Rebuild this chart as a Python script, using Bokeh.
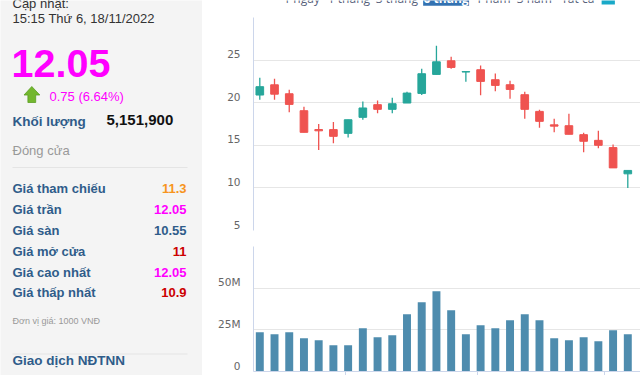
from bokeh.plotting import figure
from bokeh.layouts import row, column
from bokeh.models import Range1d, ColumnDataSource, FixedTicker, CustomJSTickFormatter
from bokeh.core.properties import value
from bokeh.embed import file_html
from bokeh.resources import INLINE

# ---------------- data ----------------
week_index = list(range(26))  # weekly candles, 6-month view ending 18/11/2022
opens = [20.9, 22.1, 21.05, 19.06, 16.85, 16.84, 16.4, 18.28, 19.77, 19.22, 19.96, 21.09, 23.32,
         24.92, 23.6, 23.87, 22.7, 22.11, 20.94, 18.98, 17.4, 17.3, 16.25, 15.58, 14.73, 11.65]
closes = [21.88, 21.0, 19.8, 16.52, 16.7, 16.05, 18.0, 19.38, 19.22, 19.88, 21.13, 23.4, 24.8,
          24.14, 23.65, 22.5, 22.03, 21.56, 19.22, 17.81, 17.25, 16.29, 15.47, 15.0, 12.35, 12.05]
highs = [22.93, 22.8, 21.52, 19.53, 17.5, 17.74, 18.0, 20.15, 20.27, 20.59, 21.29, 23.98, 26.68,
         25.39, 23.65, 24.37, 23.43, 22.58, 21.29, 19.18, 18.13, 18.71, 16.48, 16.72, 15.08, 12.05]
lows = [20.35, 20.35, 18.87, 16.52, 14.45, 15.23, 15.93, 18.0, 18.75, 18.75, 19.96, 20.9, 23.32,
        23.98, 22.46, 20.86, 21.33, 20.47, 18.13, 17.07, 16.52, 16.29, 14.18, 14.65, 12.35, 10.0]
volumes = [23.6e6, 22.4e6, 23.6e6, 20.0e6, 18.8e6, 15.8e6, 15.8e6, 26.0e6, 20.6e6, 21.8e6, 34.4e6,
           41.6e6, 48.2e6, 36.8e6, 22.4e6, 27.8e6, 26.0e6, 30.8e6, 34.4e6, 30.8e6, 20.0e6, 18.8e6,
           20.6e6, 18.2e6, 24.8e6, 22.4e6]

price_ticks = [5, 10, 15, 20, 25]
price_tick_labels = ["5", "10", "15", "20", "25"]
price_grid = [5, 10, 15, 20, 25, 30]
volume_ticks = [0, 25e6, 50e6]
volume_tick_labels = ["0", "25M", "50M"]
volume_grid = [0, 25e6, 50e6, 75e6]
month_ticks = [5.82, 14.77, 23.44]  # month boundaries on the week index

tab_names = ["1 ngày", "1 tháng", "3 tháng", "6 tháng", "1 năm", "3 năm", "Tất cả"]

update_label = "Cập nhật:"
update_time = "15:15 Thứ 6, 18/11/2022"
last_price = "12.05"
change_text = "0.75 (6.64%)"
volume_label = "Khối lượng"
volume_text = "5,151,900"
status_text = "Đóng cửa"
info_labels = ["Giá tham chiếu", "Giá trần", "Giá sàn", "Giá mở cửa", "Giá cao nhất", "Giá thấp nhất"]
info_values = ["11.3", "12.05", "10.55", "11", "12.05", "10.9"]
unit_text = "Đơn vị giá: 1000 VNĐ"
foreign_text = "Giao dịch NĐTNN"

# ---------------- styles ----------------
UP = "#26a69a"
DOWN = "#ef5350"
GRID = "#e6e6e6"
AXIS = "#ccd6eb"
BLUE = "#2f5c8a"
MAGENTA = "#ff00ff"
info_colors = ["#f7941d", MAGENTA, BLUE, "#cc0000", MAGENTA, "#cc0000"]
PANEL_BG = "#f4f4f4"
ARIAL = "Liberation Sans"
LABEL_FONT = "DejaVu Sans"

# ---------------- left info panel ----------------
left = figure(width=202, height=375, x_range=Range1d(0, 202), y_range=Range1d(375, 0),
              x_axis_location=None, y_axis_location=None, output_backend="svg",
              toolbar_location=None, min_border=0)
left.background_fill_color = PANEL_BG
left.border_fill_color = PANEL_BG
left.outline_line_color = None
left.grid.visible = False


def txt(fig, x, y, s, size, color, bold=False, align="left", font=ARIAL):
    # y is the wanted visual baseline (pixels from top); correct for bokeh's baseline placement
    fig.text(x=[x], y=[y - 0.35 * size], text=[s], text_font=value(font),
             text_font_size=f"{size}px", text_color=color,
             text_font_style="bold" if bold else "normal",
             text_align=align, text_baseline="alphabetic")


txt(left, 12, 7.5, update_label, 13, "#333333")
txt(left, 12, 22.7, update_time, 13, "#333333")
txt(left, 11, 76.7, last_price, 39.5, MAGENTA, bold=True)
# up arrow icon
left.patch(x=[23.5, 31.3, 39.3, 35.2, 35.2, 27.4, 27.4],
           y=[94.5, 86, 94.5, 94.5, 102, 102, 94.5], fill_color="#73b72e", line_color="#5a9e22",
           line_width=0.8)
txt(left, 49, 100.3, change_text, 13, MAGENTA)
txt(left, 12, 125.5, volume_label, 13.5, BLUE, bold=True)
txt(left, 106, 124.3, volume_text, 15, "#111111", bold=True)
txt(left, 12, 154.3, status_text, 13, "#999999")
left.segment(x0=[12, 12], y0=[167, 353.5], x1=[187, 187], y1=[167, 353.5], line_color="#e4e4e4",
             line_width=1)
row_y = [192.7, 213.4, 234.1, 255.3, 276.3, 296.8]
for lab, val, col, yy in zip(info_labels, info_values, info_colors, row_y):
    txt(left, 12, yy, lab, 13, BLUE, bold=True)
    txt(left, 186, yy, val, 13, col, bold=True, align="right")
txt(left, 12, 323.8, unit_text, 9, "#999999")
txt(left, 12, 364.5, foreign_text, 13.5, BLUE, bold=True)

# ---------------- tabs strip ----------------
tabs = figure(width=438, height=17, x_range=Range1d(0, 438), y_range=Range1d(17, 0),
              x_axis_location=None, y_axis_location=None, output_backend="svg",
              toolbar_location=None, min_border=0)
tabs.outline_line_color = None
tabs.grid.visible = False
tabs.background_fill_color = "white"
tab_x = [54.5, 108, 162.3, 218, 271, 317.8, 367]
tabs.quad(left=[192], right=[244], top=[-12], bottom=[5.3], fill_color="#3372b2", line_color=None)
tabs.quad(left=[394], right=[409], top=[-12], bottom=[4], fill_color="#19a9c8", line_color=None)
for name, xx in zip(tab_names, tab_x):
    txt(tabs, xx, 2.5, name, 12, "white" if name == "6 tháng" else "#56607a",
        bold=(name == "6 tháng"), align="center", font="Open Sans")

# ---------------- price (candles) ----------------
XS = -0.428
XE = XS + 387 / 14.72
PRICE_LO, PRICE_HI = 5, 30
VOL_HI = 75e6
LABEL_LIFT_PX = 6  # labels sit a little above their grid lines

price = figure(width=438, height=221, x_range=Range1d(XS, XE), y_range=Range1d(PRICE_LO, PRICE_HI),
               output_backend="svg", toolbar_location=None, min_border_left=51,
               min_border_right=0, min_border_top=0, min_border_bottom=8)
price.outline_line_color = None
price.background_fill_color = "white"
price.xaxis.visible = False
price.xgrid.visible = False
p_lift = LABEL_LIFT_PX * (PRICE_HI - PRICE_LO) / 213
price.yaxis.ticker = FixedTicker(ticks=[t + p_lift for t in price_ticks])
price.yaxis.formatter = CustomJSTickFormatter(args=dict(labels=price_tick_labels),
                                              code="return labels[index]")
price.yaxis.major_tick_line_color = None
price.yaxis.minor_tick_line_color = None
price.yaxis.axis_line_color = AXIS
price.yaxis.major_label_standoff = 7
price.yaxis.major_label_text_font = LABEL_FONT
price.yaxis.major_label_text_font_size = "10.5px"
price.yaxis.major_label_text_color = "#666666"
price.ygrid.ticker = FixedTicker(ticks=price_grid)
price.ygrid.grid_line_color = GRID

up_idx = [i for i in week_index if closes[i] >= opens[i]]
dn_idx = [i for i in week_index if closes[i] < opens[i]]
for idx, colr in ((up_idx, UP), (dn_idx, DOWN)):
    src = ColumnDataSource(dict(
        x=[week_index[i] for i in idx],
        high=[highs[i] for i in idx], low=[lows[i] for i in idx],
        top=[max(opens[i], closes[i]) for i in idx],
        bottom=[min(opens[i], closes[i]) for i in idx]))
    price.segment(x0="x", y0="high", x1="x", y1="low", source=src, line_color=colr, line_width=1.3)
    price.vbar(x="x", top="top", bottom="bottom", width=0.52, source=src, fill_color=colr,
               line_color=colr, line_width=1)

# ---------------- volume ----------------
vol = figure(width=438, height=137, x_range=price.x_range, y_range=Range1d(0, VOL_HI),
             output_backend="svg", toolbar_location=None, min_border_left=51,
             min_border_right=0, min_border_top=8, min_border_bottom=0)
vol.outline_line_color = None
vol.background_fill_color = "white"
vol.xgrid.visible = False
vol.xaxis.ticker = FixedTicker(ticks=month_ticks)
vol.xaxis.formatter = CustomJSTickFormatter(code="return ''")
vol.xaxis.major_label_text_font_size = "1px"
vol.xaxis.major_label_standoff = 0
vol.xaxis.major_tick_out = 4
vol.xaxis.major_tick_in = 0
vol.xaxis.major_tick_line_color = AXIS
vol.xaxis.minor_tick_line_color = None
vol.xaxis.axis_line_color = AXIS
v_lift = LABEL_LIFT_PX * VOL_HI / 125
vol.yaxis.ticker = FixedTicker(ticks=[t + v_lift for t in volume_ticks])
vol.yaxis.formatter = CustomJSTickFormatter(args=dict(labels=volume_tick_labels),
                                            code="return labels[index]")
vol.yaxis.major_tick_line_color = None
vol.yaxis.minor_tick_line_color = None
vol.yaxis.axis_line_color = AXIS
vol.yaxis.major_label_standoff = 7
vol.yaxis.major_label_text_font = LABEL_FONT
vol.yaxis.major_label_text_font_size = "10.5px"
vol.yaxis.major_label_text_color = "#666666"
vol.ygrid.ticker = FixedTicker(ticks=volume_grid)
vol.ygrid.grid_line_color = GRID

vol.vbar(x=week_index, top=volumes, bottom=0, width=0.54, fill_color="#4e8cae", line_color=None)

layout = row(left, column(tabs, price, vol, spacing=0), spacing=0)

open("out.html", "w").write(file_html(layout, INLINE))
